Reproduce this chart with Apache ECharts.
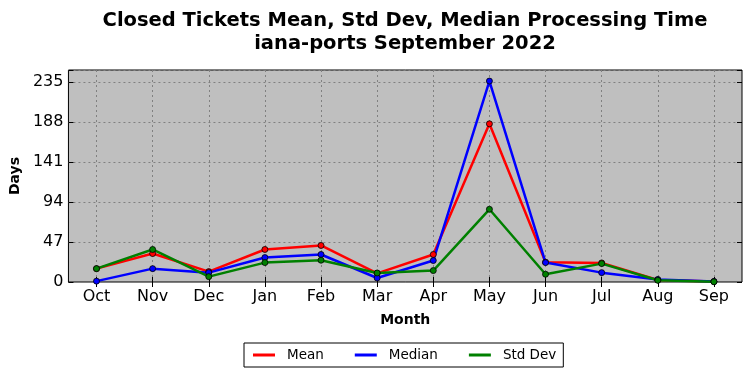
<!DOCTYPE html>
<html><head><meta charset="utf-8">
<script src="https://cdn.jsdelivr.net/npm/echarts@6/dist/echarts.min.js"></script>
<style>html,body{margin:0;padding:0;background:#fff}#c{width:752px;height:378px}</style>
</head><body><div id="c"></div>
<script>
var months = ['Oct','Nov','Dec','Jan','Feb','Mar','Apr','May','Jun','Jul','Aug','Sep'];
var meanVals = [15.7, 33.4, 12.2, 38.2, 42.9, 10.2, 32.3, 185.8, 23.3, 22.4, 2.4, 0.5];
var medianVals = [1.0, 15.7, 11.0, 28.7, 32.3, 4.7, 25.2, 236.0, 22.8, 11.0, 3.0, 0.5];
var stdVals = [15.7, 38.2, 6.3, 22.8, 25.6, 10.6, 13.4, 85.4, 9.1, 21.6, 2.0, 0.3];
var yTicks = [0, 47, 94, 141, 188, 235];

var font = 'DejaVu Sans';
var chart = echarts.init(document.getElementById('c'), null, {renderer:'canvas'});
function mk(name, data, color){
  return {name:name, type:'line', data:data, symbol:'circle', symbolSize:6,
    lineStyle:{color:color, width:2.5}, itemStyle:{color:color, borderColor:'#000', borderWidth:0.8},
    emphasis:{disabled:true}, animation:false, z:2};
}
chart.setOption({
  animation:false,
  textStyle:{fontFamily:font},
  title:{text:'Closed Tickets Mean, Std Dev, Median Processing Time\niana-ports September 2022',
    left:400, top:4, textAlign:'center',
    textStyle:{fontFamily:font, fontSize:19.5, fontWeight:'bold', color:'#000', lineHeight:23}},
  legend:{top:343, left:244, itemWidth:22, itemHeight:3, itemGap:31,
    icon:'rect', borderColor:'#000', borderWidth:1, padding:[5,7,5,9],
    itemStyle:{borderWidth:0},
    textStyle:{fontFamily:font, fontSize:13.5, color:'#000', padding:[0,0,0,7]},
    data:['Mean','Median','Std Dev']},
  grid:{left:67, right:10, top:70, bottom:96, show:true, backgroundColor:'#bfbfbf', borderColor:'#000', borderWidth:1},
  xAxis:[{type:'category', data:months, boundaryGap:true,
    name:'Month', nameLocation:'middle', nameGap:31,
    nameTextStyle:{fontFamily:font, fontSize:14, fontWeight:'bold', color:'#000'},
    axisLine:{show:false},
    axisTick:{show:true, inside:true, length:5, alignWithLabel:true, lineStyle:{color:'#000'}},
    axisLabel:{fontFamily:font, fontSize:16, color:'#000', margin:7},
    splitLine:{show:true, alignWithLabel:true, lineStyle:{color:'#808080', type:[2,3], width:1}}},
    {type:'category', data:months, position:'top', boundaryGap:true,
    axisLine:{show:false}, axisLabel:{show:false},
    axisTick:{show:true, inside:true, length:5, alignWithLabel:true, lineStyle:{color:'#000'}}}],
  yAxis:[{type:'value', min:0, max:249, interval:47,
    name:'Days', nameLocation:'middle', nameGap:45,
    nameTextStyle:{fontFamily:font, fontSize:14, fontWeight:'bold', color:'#000'},
    axisLine:{show:false},
    axisTick:{show:true, inside:true, length:5, lineStyle:{color:'#000'}},
    axisLabel:{fontFamily:font, fontSize:16, color:'#000', margin:5,
      formatter:function(v){return yTicks.indexOf(v)>=0 ? String(v) : '';}},
    splitLine:{show:true, lineStyle:{color:'#808080', type:[2,3], width:1}}},
    {type:'value', min:0, max:249, interval:47, position:'right',
    axisLine:{show:false}, axisLabel:{show:false}, splitLine:{show:false},
    axisTick:{show:true, inside:true, length:5, lineStyle:{color:'#000'}}}],
  series:[mk('Mean', meanVals, '#ff0000'), mk('Median', medianVals, '#0000ff'), mk('Std Dev', stdVals, '#008000')]
});
</script></body></html>
